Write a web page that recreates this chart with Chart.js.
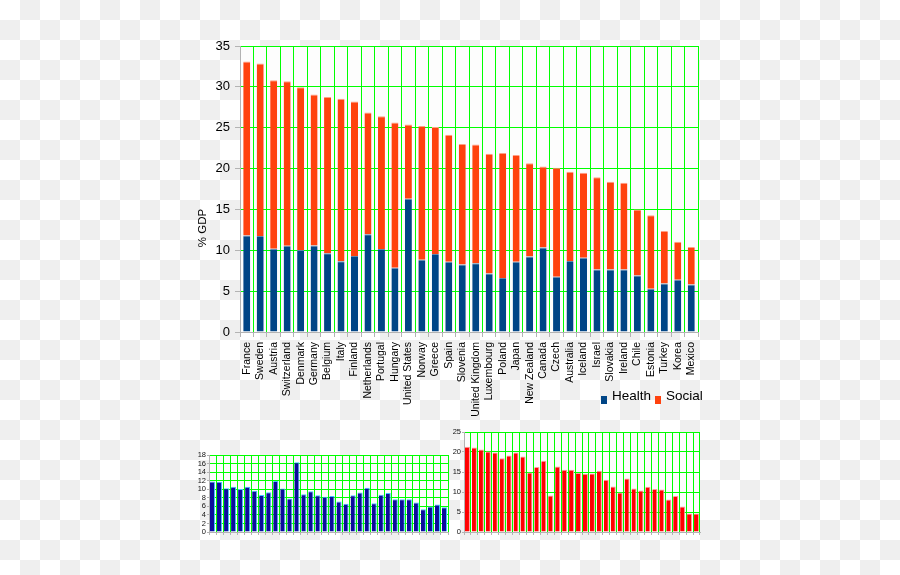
<!DOCTYPE html>
<html>
<head>
<meta charset="utf-8">
<script src="https://cdn.jsdelivr.net/npm/chart.js@4/dist/chart.umd.min.js"></script>
<style>
html, body { margin: 0; padding: 0; }
body {
  width: 900px; height: 575px; position: relative; overflow: hidden;
  background: repeating-conic-gradient(#efefef 0 25%, #fff 0 50%) 0 0 / 40px 40px;
  font-family: "Liberation Sans", Arial, sans-serif;
}
canvas { position: absolute; }
#hovedDiagram { left: 0; top: 0; }
#helseDiagram { left: 180px; top: 440px; }
#sosialDiagram { left: 430px; top: 420px; }
.tegn { position: absolute; top: 388px; font-size: 13.5px; color: #000; line-height: 16px; }
.boks { position: absolute; top: 396px; width: 6px; height: 8px; }
</style>
</head>
<body>
<canvas id="hovedDiagram" width="900" height="420"></canvas>
<canvas id="helseDiagram" width="280" height="110"></canvas>
<canvas id="sosialDiagram" width="290" height="125"></canvas>

<div class="boks" style="left:601px;background:#004586"></div>
<div class="tegn" style="left:612px">Health</div>
<div class="boks" style="left:655px;background:#ff420e"></div>
<div class="tegn" style="left:666px">Social</div>

<script>
// Land
var land = ["France", "Sweden", "Austria", "Switzerland", "Denmark", "Germany", "Belgium", "Italy",
  "Finland", "Netherlands", "Portugal", "Hungary", "United States", "Norway", "Greece", "Spain",
  "Slovenia", "United Kingdom", "Luxembourg", "Poland", "Japan", "New Zealand", "Canada", "Czech",
  "Australia", "Iceland", "Israel", "Slovakia", "Ireland", "Chile", "Estonia", "Turkey", "Korea", "Mexico"];

// % av BNP
var helse = [11.8, 11.75, 10.2, 10.55, 10.05, 10.6, 9.65, 8.65, 9.3, 11.95, 10.15, 7.85, 16.3, 8.85, 9.55, 8.6,
  8.25, 8.4, 7.15, 6.6, 8.6, 9.25, 10.35, 6.75, 8.7, 9.1, 7.65, 7.65, 7.65, 6.9, 5.3, 5.95, 6.4, 5.8];
var sosial = [21.3, 21.1, 20.6, 20.15, 19.9, 18.45, 19.1, 19.9, 18.9, 14.9, 16.25, 17.8, 9.1, 16.35, 15.55, 15.55,
  14.75, 14.55, 14.65, 15.3, 13.05, 11.4, 9.9, 13.35, 10.9, 10.4, 11.3, 10.75, 10.6, 8.1, 9.0, 6.4, 4.65, 4.6];

var yTittel = "% GDP";
var gronn = "#00ff00";
var gra = "#b3b3b3";

// hvit bakgrunn i plottet
var hvitPlott = {
  id: "hvitPlott",
  beforeDraw: function (chart) {
    var a = chart.chartArea;
    var ctx = chart.ctx;
    ctx.save();
    ctx.fillStyle = "#fdfdfd";
    ctx.fillRect(a.left, a.top, a.right - a.left, a.bottom - a.top);
    ctx.restore();
  }
};

// aksetittel
var tittel = {
  id: "tittel",
  afterDraw: function (chart) {
    var ctx = chart.ctx;
    ctx.save();
    ctx.translate(203, 228);
    ctx.rotate(-Math.PI / 2);
    ctx.font = "11.5px 'Liberation Sans', Arial, sans-serif";
    ctx.fillStyle = "#000";
    ctx.textAlign = "center";
    ctx.textBaseline = "middle";
    ctx.fillText(yTittel, 0, 0);
    ctx.restore();
  }
};

function ikkeForste(c) { return c.index === 0 ? "rgba(0,0,0,0)" : gronn; }

new Chart("hovedDiagram", {
  type: "bar",
  data: {
    labels: land,
    datasets: [{
      label: "Health",
      data: helse,
      backgroundColor: "#004586",
      borderColor: "#5f86ad",
      borderWidth: { top: 1, left: 0, right: 0, bottom: 0 },
      borderSkipped: false,
      barPercentage: 0.52,
      categoryPercentage: 1
    }, {
      label: "Social",
      data: sosial,
      backgroundColor: "#ff420e",
      borderColor: "#ff9f85",
      borderWidth: { top: 1, left: 0, right: 0, bottom: 0 },
      borderSkipped: false,
      barPercentage: 0.52,
      categoryPercentage: 1
    }]
  },
  options: {
    responsive: false,
    animation: false,
    layout: { padding: { left: 180, top: 46, right: 202, bottom: 0 } },
    plugins: { legend: { display: false }, tooltip: { enabled: false } },
    scales: {
      x: {
        stacked: true,
        afterFit: function (s) { s.height = 88; },
        grid: { color: ikkeForste, tickColor: gra, tickLength: 5, lineWidth: 1 },
        border: { color: gra },
        ticks: {
          autoSkip: false, minRotation: 90, maxRotation: 90, padding: 5,
          color: "#000", font: { family: "'Liberation Sans', Arial, sans-serif", size: 10.5 }
        }
      },
      y: {
        stacked: true,
        min: 0, max: 35,
        afterFit: function (s) { s.width = 60; },
        grid: { color: ikkeForste, tickColor: gra, tickLength: 5 },
        border: { color: gra },
        ticks: {
          stepSize: 5, padding: 5, color: "#000",
          font: { family: "'Liberation Sans', Arial, sans-serif", size: 13 }
        }
      }
    }
  },
  plugins: [hvitPlott, tittel]
});

// små diagram
function lagLiten(id, data, farge, kant, maks, steg, pad, yBredde, xHoyde) {
  new Chart(id, {
    type: "bar",
    data: {
      labels: land,
      datasets: [{
        data: data,
        backgroundColor: farge,
        borderColor: kant,
        borderWidth: { top: 1, right: 1, left: 0, bottom: 0 },
        borderSkipped: false,
        barPercentage: 0.72,
        categoryPercentage: 1
      }]
    },
    options: {
      responsive: false,
      animation: false,
      layout: { padding: pad },
      plugins: { legend: { display: false }, tooltip: { enabled: false } },
      scales: {
        x: {
          afterFit: function (s) { s.height = xHoyde; },
          grid: { color: gronn, tickColor: gra, tickLength: 3 },
          border: { color: gra },
          ticks: { display: false }
        },
        y: {
          min: 0, max: maks,
          afterFit: function (s) { s.width = yBredde; },
          grid: { color: ikkeForste, tickColor: gra, tickLength: 2 },
          border: { color: gra },
          ticks: {
            stepSize: steg, padding: 1, color: "#111", autoSkip: false,
            font: { family: "'Liberation Sans', Arial, sans-serif", size: 7.5 }
          }
        }
      }
    },
    plugins: [hvitPlott]
  });
}

lagLiten("helseDiagram", helse, "#0b0b9c", "#40c4ff", 18, 2, { left: 0, top: 15, right: 12, bottom: 0 }, 29, 18);
lagLiten("sosialDiagram", sosial, "#ff0000", "#ff9a9a", 25, 5, { left: 0, top: 12, right: 20, bottom: 0 }, 34, 13);
</script>
</body>
</html>
